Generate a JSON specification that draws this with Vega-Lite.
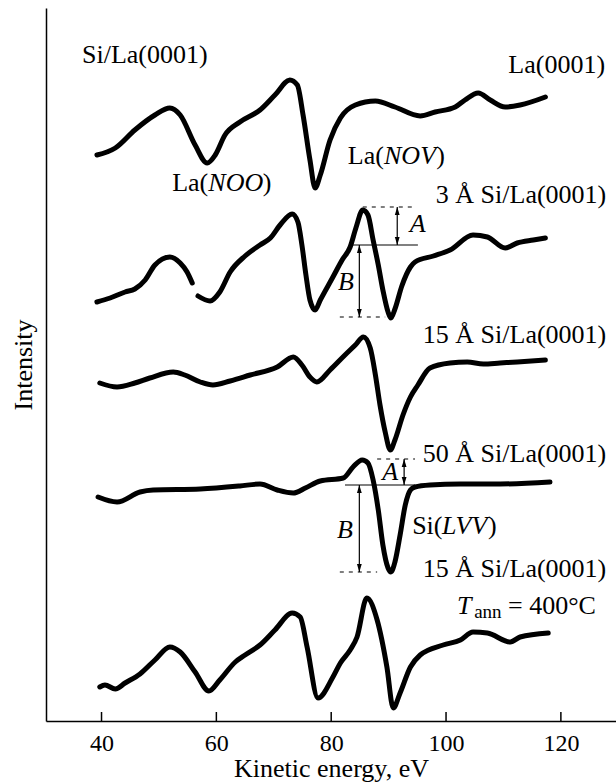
{
  "$schema": "https://vega.github.io/schema/vega-lite/v6.json",
  "width": 570,
  "height": 713,
  "autosize": {"type": "none"},
  "padding": {"left": 46, "top": 8, "right": 0, "bottom": 62},
  "background": "white",
  "config": {"view": {"stroke": null}, "font": "Liberation Serif"},
  "datasets": {
    "curves": [
      {"s":"c1","E":39.2,"I":566},{"s":"c1","E":42.4,"I":573},{"s":"c1","E":45.8,"I":591},{"s":"c1","E":49.3,"I":606},{"s":"c1","E":51.9,"I":613},{"s":"c1","E":53.7,"I":606},{"s":"c1","E":56.3,"I":576},{"s":"c1","E":58.4,"I":558},{"s":"c1","E":59.8,"I":566},{"s":"c1","E":61.5,"I":586},{"s":"c1","E":64.1,"I":599},{"s":"c1","E":67.6,"I":611},{"s":"c1","E":70.2,"I":626},{"s":"c1","E":72.8,"I":641},{"s":"c1","E":74.1,"I":636},{"s":"c1","E":75.1,"I":606},{"s":"c1","E":76.3,"I":561},{"s":"c1","E":77.2,"I":533},{"s":"c1","E":78.1,"I":546},{"s":"c1","E":79.8,"I":581},{"s":"c1","E":81.6,"I":603},{"s":"c1","E":84.2,"I":616},{"s":"c1","E":87.7,"I":620},{"s":"c1","E":91.1,"I":614},{"s":"c1","E":95.5,"I":605},{"s":"c1","E":98.1,"I":609},{"s":"c1","E":101.6,"I":614},{"s":"c1","E":103.3,"I":621},{"s":"c1","E":105.6,"I":628},{"s":"c1","E":107.7,"I":621},{"s":"c1","E":110.3,"I":614},{"s":"c1","E":112.9,"I":616},{"s":"c1","E":117.3,"I":624},
      {"s":"c2a","E":39.2,"I":419},{"s":"c2a","E":41.5,"I":423},{"s":"c2a","E":44.1,"I":429},{"s":"c2a","E":45.8,"I":432},{"s":"c2a","E":47.6,"I":441},{"s":"c2a","E":49.3,"I":456},{"s":"c2a","E":51.9,"I":464},{"s":"c2a","E":53.7,"I":458},{"s":"c2a","E":54.9,"I":449},{"s":"c2a","E":55.8,"I":438},
      {"s":"c2b","E":56.8,"I":425},{"s":"c2b","E":58.9,"I":420},{"s":"c2b","E":60.6,"I":429},{"s":"c2b","E":62.4,"I":449},{"s":"c2b","E":65.0,"I":465},{"s":"c2b","E":67.6,"I":476},{"s":"c2b","E":69.4,"I":483},{"s":"c2b","E":71.1,"I":496},{"s":"c2b","E":73.2,"I":507},{"s":"c2b","E":74.2,"I":499},{"s":"c2b","E":74.9,"I":476},{"s":"c2b","E":75.6,"I":446},{"s":"c2b","E":76.3,"I":421},{"s":"c2b","E":77.2,"I":411},{"s":"c2b","E":78.1,"I":421},{"s":"c2b","E":80.3,"I":444},{"s":"c2b","E":81.9,"I":461},{"s":"c2b","E":83.3,"I":474},{"s":"c2b","E":84.3,"I":493},{"s":"c2b","E":85.5,"I":511},{"s":"c2b","E":86.4,"I":506},{"s":"c2b","E":87.3,"I":481},{"s":"c2b","E":88.2,"I":456},{"s":"c2b","E":89.0,"I":431},{"s":"c2b","E":89.9,"I":409},{"s":"c2b","E":90.4,"I":403},{"s":"c2b","E":91.1,"I":412},{"s":"c2b","E":92.3,"I":435},{"s":"c2b","E":93.8,"I":454},{"s":"c2b","E":94.6,"I":459},{"s":"c2b","E":97.8,"I":465},{"s":"c2b","E":100.7,"I":471},{"s":"c2b","E":104.7,"I":486},{"s":"c2b","E":107.2,"I":484},{"s":"c2b","E":110.3,"I":473},{"s":"c2b","E":112.4,"I":478},{"s":"c2b","E":115.2,"I":481},{"s":"c2b","E":117.3,"I":483},
      {"s":"c3","E":39.7,"I":338},{"s":"c3","E":42.7,"I":334},{"s":"c3","E":45.8,"I":338},{"s":"c3","E":48.4,"I":343},{"s":"c3","E":52.5,"I":349},{"s":"c3","E":54.5,"I":346},{"s":"c3","E":57.2,"I":339},{"s":"c3","E":59.4,"I":336},{"s":"c3","E":62.4,"I":340},{"s":"c3","E":65.9,"I":346},{"s":"c3","E":70.6,"I":354},{"s":"c3","E":73.4,"I":364},{"s":"c3","E":74.9,"I":356},{"s":"c3","E":76.3,"I":344},{"s":"c3","E":77.5,"I":339},{"s":"c3","E":79.8,"I":351},{"s":"c3","E":82.4,"I":366},{"s":"c3","E":84.2,"I":376},{"s":"c3","E":85.6,"I":384},{"s":"c3","E":86.8,"I":373},{"s":"c3","E":87.7,"I":346},{"s":"c3","E":88.5,"I":316},{"s":"c3","E":89.4,"I":289},{"s":"c3","E":90.3,"I":271},{"s":"c3","E":91.1,"I":281},{"s":"c3","E":92.5,"I":306},{"s":"c3","E":93.8,"I":324},{"s":"c3","E":95.1,"I":336},{"s":"c3","E":97.2,"I":353},{"s":"c3","E":100.7,"I":358},{"s":"c3","E":103.7,"I":359},{"s":"c3","E":106.5,"I":357},{"s":"c3","E":109.4,"I":358},{"s":"c3","E":112.4,"I":359},{"s":"c3","E":117.3,"I":361},
      {"s":"c4","E":39.4,"I":224},{"s":"c4","E":42.7,"I":219},{"s":"c4","E":46.7,"I":229},{"s":"c4","E":49.0,"I":231},{"s":"c4","E":57.2,"I":232},{"s":"c4","E":64.1,"I":235},{"s":"c4","E":67.6,"I":237},{"s":"c4","E":70.6,"I":231},{"s":"c4","E":73.4,"I":228},{"s":"c4","E":75.5,"I":233},{"s":"c4","E":78.1,"I":240},{"s":"c4","E":82.1,"I":243},{"s":"c4","E":83.8,"I":254},{"s":"c4","E":85.4,"I":261},{"s":"c4","E":86.4,"I":258},{"s":"c4","E":87.3,"I":241},{"s":"c4","E":88.2,"I":211},{"s":"c4","E":89.0,"I":176},{"s":"c4","E":89.9,"I":153},{"s":"c4","E":90.4,"I":149},{"s":"c4","E":91.1,"I":159},{"s":"c4","E":92.0,"I":186},{"s":"c4","E":92.9,"I":216},{"s":"c4","E":93.8,"I":231},{"s":"c4","E":94.6,"I":234},{"s":"c4","E":97.2,"I":236},{"s":"c4","E":102.5,"I":237},{"s":"c4","E":109.4,"I":237},{"s":"c4","E":118.1,"I":239},
      {"s":"c5","E":39.7,"I":34},{"s":"c5","E":40.6,"I":36},{"s":"c5","E":42.4,"I":32},{"s":"c5","E":44.1,"I":38},{"s":"c5","E":46.7,"I":47},{"s":"c5","E":49.3,"I":61},{"s":"c5","E":51.9,"I":74},{"s":"c5","E":53.7,"I":69},{"s":"c5","E":56.3,"I":49},{"s":"c5","E":58.7,"I":30},{"s":"c5","E":60.6,"I":41},{"s":"c5","E":63.3,"I":59},{"s":"c5","E":65.0,"I":66},{"s":"c5","E":67.6,"I":76},{"s":"c5","E":70.2,"I":91},{"s":"c5","E":73.2,"I":108},{"s":"c5","E":74.6,"I":104},{"s":"c5","E":75.8,"I":74},{"s":"c5","E":77.7,"I":23},{"s":"c5","E":80.3,"I":44},{"s":"c5","E":81.6,"I":58},{"s":"c5","E":83.3,"I":71},{"s":"c5","E":84.5,"I":84},{"s":"c5","E":86.2,"I":123},{"s":"c5","E":88.0,"I":101},{"s":"c5","E":89.7,"I":54},{"s":"c5","E":90.8,"I":13},{"s":"c5","E":92.0,"I":28},{"s":"c5","E":93.8,"I":54},{"s":"c5","E":95.5,"I":66},{"s":"c5","E":99.5,"I":76},{"s":"c5","E":102.5,"I":81},{"s":"c5","E":104.7,"I":89},{"s":"c5","E":107.2,"I":88},{"s":"c5","E":111.2,"I":79},{"s":"c5","E":112.9,"I":84},{"s":"c5","E":117.8,"I":88}
    ],
    "ticks": [{"E":40},{"E":60},{"E":80},{"E":100},{"E":120}],
    "hlines": [
      {"E":85.5,"E2":94.6,"I":514,"st":"d"},
      {"E":83.6,"E2":95.1,"I":476,"st":"s"},
      {"E":81.5,"E2":89.4,"I":404,"st":"d"},
      {"E":88.0,"E2":94.6,"I":262,"st":"d"},
      {"E":82.4,"E2":94.6,"I":236,"st":"s"},
      {"E":81.5,"E2":88.0,"I":149,"st":"d"}
    ],
    "shafts": [
      {"E":91.5,"I":476,"I2":514},
      {"E":84.9,"I":404,"I2":476},
      {"E":92.7,"I":236,"I2":262},
      {"E":84.9,"I":149,"I2":236}
    ],
    "heads": [
      {"E":91.5,"I":514,"d":"up"},{"E":91.5,"I":476,"d":"down"},
      {"E":84.9,"I":476,"d":"up"},{"E":84.9,"I":404,"d":"down"},
      {"E":92.7,"I":262,"d":"up"},{"E":92.7,"I":236,"d":"down"},
      {"E":84.9,"I":236,"d":"up"},{"E":84.9,"I":149,"d":"down"}
    ],
    "labels": [
      {"E":36.6,"I":658,"t":"Si/La(0001)","k":"nl"},
      {"E":127.7,"I":648,"t":"La(0001)","k":"nr"},
      {"E":52.3,"I":530,"t":"La(","k":"nl"},
      {"E":58.6,"I":530,"t":"NOO","k":"il"},
      {"E":68.1,"I":530,"t":")","k":"nl"},
      {"E":82.9,"I":557,"t":"La(","k":"nl"},
      {"E":89.2,"I":557,"t":"NOV","k":"il"},
      {"E":98.3,"I":557,"t":")","k":"nl"},
      {"E":127.9,"I":518,"t":"3 Å Si/La(0001)","k":"nr"},
      {"E":93.7,"I":489,"t":"A","k":"il"},
      {"E":81.2,"I":431,"t":"B","k":"il"},
      {"E":127.9,"I":378,"t":"15 Å Si/La(0001)","k":"nr"},
      {"E":127.9,"I":259,"t":"50 Å Si/La(0001)","k":"nr"},
      {"E":88.9,"I":241,"t":"A","k":"il"},
      {"E":81.0,"I":183,"t":"B","k":"il"},
      {"E":94.1,"I":187,"t":"Si(","k":"nl"},
      {"E":99.3,"I":187,"t":"LVV","k":"il"},
      {"E":107.3,"I":187,"t":")","k":"nl"},
      {"E":127.9,"I":144,"t":"15 Å Si/La(0001)","k":"nr"},
      {"E":101.9,"I":107,"t":"T","k":"il"},
      {"E":104.9,"I":103,"t":"ann","k":"sub"},
      {"E":110.8,"I":107,"t":"= 400°C","k":"nl"}
    ]
  },
  "layer": [
    {
      "data": {"name": "curves"},
      "mark": {"type": "line", "color": "black", "strokeWidth": 5, "strokeCap": "round", "strokeJoin": "round", "interpolate": "monotone"},
      "encoding": {
        "x": {"field": "E", "type": "quantitative", "scale": {"domain": [30.33, 129.6], "nice": false, "zero": false},
              "axis": {"values": [40, 60, 80, 100, 120], "ticks": false, "grid": false, "domainColor": "black", "domainWidth": 1.5,
                       "labelFont": "Liberation Serif", "labelFontSize": 24, "labelColor": "black", "labelPadding": 10,
                       "title": "Kinetic energy, eV", "titleFont": "Liberation Serif", "titleFontSize": 26, "titleFontWeight": "normal", "titleColor": "black", "titlePadding": 0}},
        "y": {"field": "I", "type": "quantitative", "scale": {"domain": [0, 713], "nice": false, "zero": false},
              "axis": {"ticks": false, "labels": false, "grid": false, "domainColor": "black", "domainWidth": 1.5,
                       "title": "Intensity", "titleFont": "Liberation Serif", "titleFontSize": 26, "titleFontWeight": "normal", "titleColor": "black", "titlePadding": 10}},
        "detail": {"field": "s", "type": "nominal"}
      }
    },
    {
      "data": {"name": "ticks"},
      "mark": {"type": "rule", "color": "black", "strokeWidth": 1.5},
      "encoding": {
        "x": {"field": "E", "type": "quantitative"},
        "y": {"datum": 0},
        "y2": {"datum": 9}
      }
    },
    {
      "data": {"name": "hlines"},
      "mark": {"type": "rule", "color": "black", "strokeWidth": 1.2},
      "encoding": {
        "x": {"field": "E", "type": "quantitative"},
        "x2": {"field": "E2"},
        "y": {"field": "I", "type": "quantitative"},
        "strokeDash": {"field": "st", "type": "nominal", "scale": {"domain": ["d", "s"], "range": [[4, 5], [1, 0]]}, "legend": null}
      }
    },
    {
      "data": {"name": "shafts"},
      "mark": {"type": "rule", "color": "black", "strokeWidth": 1.2},
      "encoding": {
        "x": {"field": "E", "type": "quantitative"},
        "y": {"field": "I", "type": "quantitative"},
        "y2": {"field": "I2"}
      }
    },
    {
      "data": {"name": "heads"},
      "mark": {"type": "point", "filled": true, "color": "black", "opacity": 1, "size": 64, "strokeWidth": 0},
      "encoding": {
        "x": {"field": "E", "type": "quantitative"},
        "y": {"field": "I", "type": "quantitative"},
        "shape": {"field": "d", "type": "nominal", "scale": {"domain": ["up", "down"], "range": ["M0,0L-0.6,2L0.6,2Z", "M0,0L-0.6,-2L0.6,-2Z"]}, "legend": null}
      }
    },
    {
      "mark": {"type": "point", "filled": true, "color": "black", "opacity": 1, "size": 225, "strokeWidth": 0, "shape": "M0,0L-0.45,2L0.45,2Z"},
      "encoding": {
        "x": {"datum": 30.33},
        "y": {"datum": 713}
      }
    },
    {
      "data": {"name": "labels"},
      "transform": [{"filter": "datum.k === 'nl'"}],
      "mark": {"type": "text", "font": "Liberation Serif", "fontSize": 26, "align": "left", "baseline": "alphabetic", "color": "black"},
      "encoding": {
        "x": {"field": "E", "type": "quantitative"},
        "y": {"field": "I", "type": "quantitative"},
        "text": {"field": "t"}
      }
    },
    {
      "data": {"name": "labels"},
      "transform": [{"filter": "datum.k === 'nr'"}],
      "mark": {"type": "text", "font": "Liberation Serif", "fontSize": 26, "align": "right", "baseline": "alphabetic", "color": "black"},
      "encoding": {
        "x": {"field": "E", "type": "quantitative"},
        "y": {"field": "I", "type": "quantitative"},
        "text": {"field": "t"}
      }
    },
    {
      "data": {"name": "labels"},
      "transform": [{"filter": "datum.k === 'il'"}],
      "mark": {"type": "text", "font": "Liberation Serif", "fontSize": 26, "fontStyle": "italic", "align": "left", "baseline": "alphabetic", "color": "black"},
      "encoding": {
        "x": {"field": "E", "type": "quantitative"},
        "y": {"field": "I", "type": "quantitative"},
        "text": {"field": "t"}
      }
    },
    {
      "data": {"name": "labels"},
      "transform": [{"filter": "datum.k === 'sub'"}],
      "mark": {"type": "text", "font": "Liberation Serif", "fontSize": 19, "align": "left", "baseline": "alphabetic", "color": "black"},
      "encoding": {
        "x": {"field": "E", "type": "quantitative"},
        "y": {"field": "I", "type": "quantitative"},
        "text": {"field": "t"}
      }
    }
  ]
}
